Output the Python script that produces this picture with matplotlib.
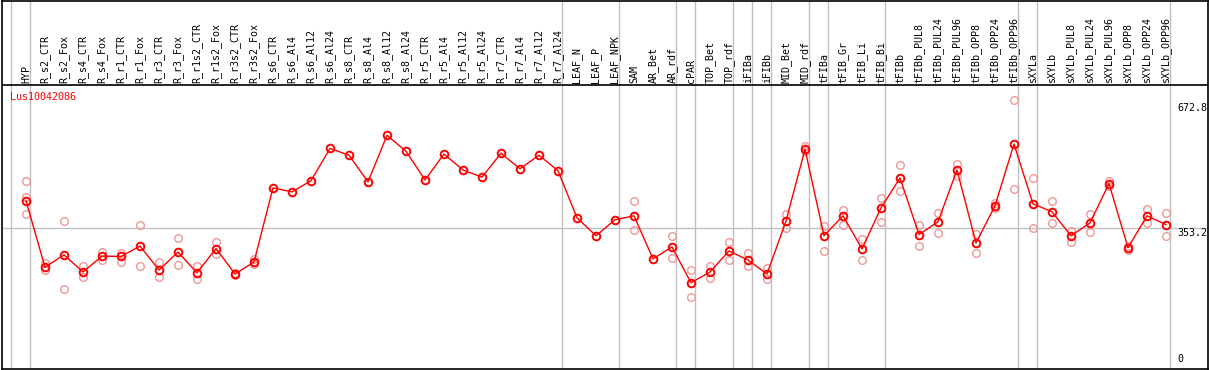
import numpy as np
import matplotlib
matplotlib.use("Agg")
import matplotlib.pyplot as plt

# --- DATA ---
gene = "Lus10042086"
samples = ["HYP",
           "R_s2_CTR", "R_s2_Fox", "R_s4_CTR", "R_s4_Fox", "R_r1_CTR", "R_r1_Fox",
           "R_r3_CTR", "R_r3_Fox", "R_r1s2_CTR", "R_r1s2_Fox", "R_r3s2_CTR", "R_r3s2_Fox",
           "R_s6_CTR", "R_s6_Al4", "R_s6_Al12", "R_s6_Al24",
           "R_s8_CTR", "R_s8_Al4", "R_s8_Al12", "R_s8_Al24",
           "R_r5_CTR", "R_r5_Al4", "R_r5_Al12", "R_r5_Al24",
           "R_r7_CTR", "R_r7_Al4", "R_r7_Al12", "R_r7_Al24",
           "LEAF_N", "LEAF_P", "LEAF_NPK",
           "SAM", "AR_Bet", "AR_rdf",
           "cPAR", "TOP_Bet", "TOP_rdf", "iFIBa", "iFIBb", "MID_Bet", "MID_rdf",
           "tFIBa", "tFIB_Gr", "tFIB_Li", "tFIB_Bi",
           "tFIBb", "tFIBb_PUL8", "tFIBb_PUL24", "tFIBb_PUL96", "tFIBb_OPP8", "tFIBb_OPP24", "tFIBb_OPP96",
           "sXYLa",
           "sXYLb", "sXYLb_PUL8", "sXYLb_PUL24", "sXYLb_PUL96", "sXYLb_OPP8", "sXYLb_OPP24", "sXYLb_OPP96"]
# sizes of the sample groups (separated by grey lines)
group_sizes = [1, 28, 3, 3, 1, 2, 1, 1, 2, 1, 3, 7, 1, 7]

means = [421, 254, 285, 242, 282, 281, 307, 247, 292, 240, 301, 237, 267,
         453, 443, 471, 552, 535, 468, 585, 545, 473, 538, 498, 480, 540, 501, 535, 496,
         378, 333, 373, 383, 275, 305, 215, 242, 295, 272, 237, 370, 550,
         333, 383, 300, 403, 478, 336, 368, 498, 315, 408, 563,
         413, 393, 333, 365, 464, 303, 383, 361]
nan = np.nan
rep_a = [471, 265, 371, 256, 292, 290, 360, 266, 327, 256, 317, 240, 274,
         nan, nan, nan, nan, nan, nan, nan, nan, nan, nan, nan, nan, nan, nan, nan, nan,
         nan, nan, nan, 420, nan, 332, 247, 257, 317, 289, 251, 388, 557,
         357, 398, 326, 428, 510, 361, 390, 513, 338, 415, 672.8,
         478, 420, 346, 388, 471, 308, 401, 390]
rep_b = [388, 246, 200, 229, 273, 268, 256, 230, 260, 224, 286, 234, 261,
         nan, nan, nan, nan, nan, nan, nan, nan, nan, nan, nan, nan, nan, nan, nan, nan,
         nan, nan, nan, 347, nan, 277, 180, 226, 271, 256, 224, 353, 546,
         294, 360, 271, 368, 445, 308, 341, 483, 290, 402, 450,
         353, 365, 318, 342, 459, 298, 364, 333]
rep_c = [431] + [nan] * 60

y_ticks = [0, 353.2, 672.8]

# --- LAYOUT (pixels) ---
W, H = 1209, 370
x0_px, step_px = 26, 19          # first column centre, column spacing
zero_px, ref_px = 369, 228       # pixel rows of 0 and 353.2
unit_px = (zero_px - ref_px) / 353.2
header_px = 85

def px2x(px):
    return (px - x0_px) / step_px

def px2y(py):
    return (zero_px - py) / unit_px

fig = plt.figure(figsize=(W / 100, H / 100), dpi=100)
ax = fig.add_axes([1.5 / W, 1 / H, (1208 - 1.5) / W, (369.5 - 1) / H])
ax.set_xlim(px2x(1.5), px2x(1208))
ax.set_ylim(px2y(369.5), px2y(0.5))
ax.set_xticks([])
ax.set_yticks([])
for s in ax.spines.values():
    s.set_color("black")
    s.set_linewidth(1.2)

mono = "DejaVu Sans Mono"
fs = 7.2
x = np.arange(len(samples))

# group separators
bounds = np.concatenate([[0], np.cumsum(group_sizes)])
for b in bounds:
    ax.axvline(b - 15 / step_px, color="#c0c0c0", lw=1, zorder=1)

# header separator and reference line
ax.axhline(px2y(header_px), color="black", lw=1.2, zorder=2)
ax.plot([ax.get_xlim()[0], ax.get_xlim()[1]], [y_ticks[1], y_ticks[1]],
        color="#c0c0c0", lw=1, zorder=1)

# sample labels
for xi, name in zip(x, samples):
    ax.text(xi, px2y(header_px - 2), name, rotation=90, ha="center", va="bottom",
            fontsize=fs, family=mono, color="black")

# replicates
for reps in (rep_a, rep_b, rep_c):
    ax.plot(x, reps, "o", ls="none", ms=5.5, mfc="none", mec="#f09898", mew=1.0, zorder=3)

# means
ax.plot(x, means, "-", color="red", lw=1, zorder=4)
ax.plot(x, means, "o", ls="none", ms=5.5, mfc="none", mec="red", mew=1.4, zorder=5)

# title
ax.text(px2x(10), px2y(97), gene, color="red", fontsize=fs, family=mono,
        ha="left", va="center")

# right value labels
lab_x = px2x(1177)
ax.annotate(f"{y_ticks[2]:.1f}", (lab_x, y_ticks[2]), xytext=(0, -2), textcoords="offset points",
            ha="left", va="top", fontsize=fs, family=mono)
ax.annotate(f"{y_ticks[1]:.1f}", (lab_x, y_ticks[1]), xytext=(0, -0.5), textcoords="offset points",
            ha="left", va="top", fontsize=fs, family=mono)
ax.annotate("0", (lab_x, y_ticks[0]), xytext=(0, 3), textcoords="offset points",
            ha="left", va="bottom", fontsize=fs, family=mono)

fig.savefig("out.png", dpi=100)
